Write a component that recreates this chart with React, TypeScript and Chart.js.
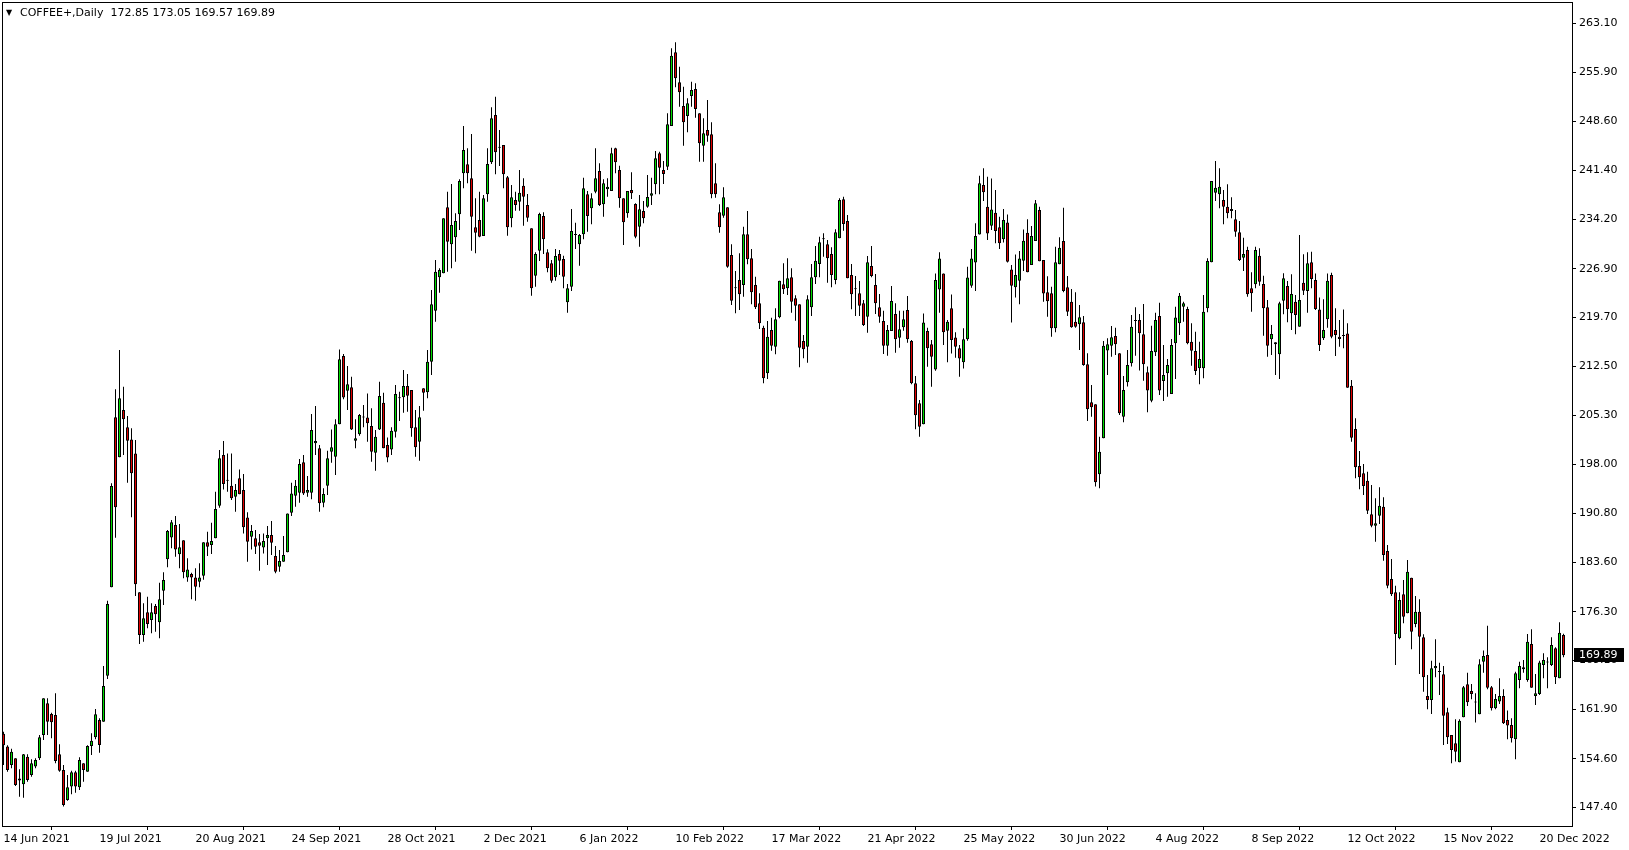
import React, { useEffect, useRef } from "react";
import { Chart, registerables } from "chart.js";

Chart.register(...registerables);

const symbolTitle = "COFFEE+,Daily";
const lastQuote = ["172.85", "173.05", "169.57", "169.89"];
const lastPrice = 169.89;

const xTickBars = [0, 24, 48, 72, 96, 120, 144, 168, 192, 216, 240, 264, 288, 312, 336, 360, 384];
const xTickLabels = [
  "14 Jun 2021", "19 Jul 2021", "20 Aug 2021", "24 Sep 2021", "28 Oct 2021", "2 Dec 2021",
  "6 Jan 2022", "10 Feb 2022", "17 Mar 2022", "21 Apr 2022", "25 May 2022", "30 Jun 2022",
  "4 Aug 2022", "8 Sep 2022", "12 Oct 2022", "15 Nov 2022", "20 Dec 2022",
];
const yTickLabels = [
  "263.10", "255.90", "248.60", "241.40", "234.20", "226.90", "219.70", "212.50", "205.30",
  "198.00", "190.80", "183.60", "176.30", "169.10", "161.90", "154.60", "147.40",
];

const opens = [
  158.3, 156.4, 153.7, 154.67, 151.4, 150.84, 154.92, 152.22, 153.45, 154.68,
  158.12, 162.79, 161.21, 161.06, 155.26, 152.95, 148.53, 150.5, 152.61, 150.4,
  153.94, 152.7, 156.49, 157.77, 160.33, 160.08, 166.87, 179.9, 204.97, 199.07,
  206.05, 203.49, 201.7, 199.65, 179.15, 172.86, 176.2, 175.07, 177.14, 174.73,
  179.4, 184.02, 187.26, 189.08, 184.76, 186.82, 181.36, 181.86, 181.36, 180.73,
  181.61, 186.53, 186.14, 187.12, 191.94, 199.41, 195.6, 194.88, 193.26, 195.97,
  194.25, 190.21, 187.36, 187.12, 186.53, 185.77, 187.12, 187.61, 184.51, 182.94,
  183.68, 185.05, 190.9, 193.41, 193.85, 198.33, 193.85, 193.85, 201.13, 200.39,
  192.38, 194.89, 199.9, 199.16, 203.93, 214.01, 208.9, 209.39, 201.52, 202.46,
  205.0, 204.96, 203.69, 199.75, 203.19, 207.13, 200.88, 200.24, 202.85, 207.77,
  207.92, 209.59, 209.0, 203.5, 201.38, 209.25, 208.66, 213.18, 220.7, 225.62,
  226.21, 235.94, 230.49, 231.52, 234.91, 240.96, 242.29, 240.22, 232.99, 234.08,
  231.72, 237.86, 242.58, 249.56, 244.74, 245.14, 240.37, 234.32, 237.03, 236.78,
  239.14, 236.29, 232.84, 225.86, 229.55, 234.66, 229.3, 227.68, 225.62, 229.06,
  228.32, 221.93, 224.24, 232.01, 230.48, 231.96, 237.86, 235.79, 238.25, 241.3,
  236.38, 238.6, 238.35, 244.64, 241.45, 237.27, 235.06, 238.5, 236.43, 233.09,
  235.4, 236.04, 237.66, 239.33, 243.91, 241.45, 241.94, 247.94, 258.8, 254.38,
  250.89, 249.41, 252.36, 253.4, 249.81, 245.04, 247.35, 246.71, 239.48, 235.2,
  234.71, 235.94, 228.91, 223.99, 225.22, 224.49, 231.99, 228.42, 224.49, 221.78,
  218.19, 211.46, 217.85, 215.39, 219.72, 224.59, 224.0, 225.62, 222.52, 221.64,
  216.23, 215.39, 221.19, 225.62, 227.59, 231.22, 230.49, 229.06, 225.23, 231.37,
  237.12, 233.93, 225.96, 223.9, 223.26, 221.78, 219.82, 227.29, 224.49, 221.19,
  219.18, 215.54, 217.7, 220.21, 216.72, 218.24, 220.8, 216.23, 209.98, 207.03,
  203.93, 217.7, 215.73, 212.04, 223.84, 226.2, 217.75, 221.04, 216.76, 215.14,
  213.08, 216.47, 224.38, 227.82, 231.95, 239.23, 236.03, 233.23, 235.15, 232.99,
  231.22, 233.72, 226.79, 224.14, 225.12, 228.07, 232.2, 227.43, 230.97, 235.54,
  228.17, 223.4, 223.26, 218.1, 227.54, 230.98, 224.15, 222.03, 219.08, 218.69,
  218.98, 212.79, 207.19, 206.89, 196.57, 201.88, 214.81, 215.54, 216.97, 214.41,
  205.07, 210.13, 212.94, 219.18, 219.33, 217.21, 211.61, 207.43, 214.56, 219.92,
  210.33, 211.46, 208.41, 215.88, 218.83, 221.29, 220.95, 216.13, 214.75, 212.19,
  212.19, 221.04, 227.83, 238.1, 237.86, 237.02, 236.04, 235.7, 234.17, 232.25,
  228.52, 229.65, 223.99, 224.58, 228.81, 224.63, 221.19, 216.47, 216.03, 214.26,
  222.18, 224.34, 220.31, 222.03, 218.34, 224.83, 223.6, 227.83, 225.22, 220.89,
  216.62, 219.42, 225.96, 217.85, 216.86, 216.95, 217.35, 209.64, 203.24, 197.79,
  196.71, 195.62, 190.66, 188.99, 190.46, 191.79, 185.25, 181.12, 179.15, 172.37,
  178.86, 176.06, 181.32, 174.48, 176.3, 172.52, 163.86, 163.27, 167.94, 167.45,
  167.07, 161.46, 158.12, 156.89, 154.09, 160.72, 165.59, 164.61, 162.9, 161.17,
  168.93, 169.92, 165.15, 162.05, 163.04, 163.87, 160.33, 159.6, 157.48, 166.23,
  167.8, 166.23, 171.54, 163.87, 164.17, 168.44, 168.79, 168.44, 170.9, 166.48,
  172.85,
];

const highs = [
  158.6, 156.6, 156.1, 154.7, 153.05, 155.3, 155.26, 154.53, 154.68, 158.12,
  163.52, 163.52, 161.41, 164.26, 156.74, 153.69, 152.22, 152.85, 152.85, 154.82,
  153.94, 156.6, 158.36, 161.95, 160.57, 168.29, 177.93, 195.23, 209.1, 214.9,
  209.49, 205.17, 203.35, 201.62, 179.15, 177.53, 178.51, 177.53, 177.43, 180.58,
  182.1, 188.35, 189.82, 190.41, 189.23, 186.82, 184.17, 182.05, 182.69, 183.43,
  186.53, 188.1, 189.43, 194.0, 200.15, 201.47, 199.65, 199.65, 195.13, 197.29,
  196.61, 190.95, 189.08, 188.35, 187.76, 187.85, 188.94, 189.67, 185.99, 185.4,
  187.46, 190.8, 195.33, 195.72, 198.82, 199.41, 196.31, 205.46, 206.64, 200.88,
  194.49, 200.05, 203.19, 204.67, 214.99, 214.31, 212.54, 210.96, 204.67, 205.46,
  206.78, 208.5, 206.29, 203.09, 210.22, 208.6, 202.01, 203.49, 209.73, 208.76,
  211.95, 211.36, 209.0, 206.05, 206.64, 209.25, 214.9, 223.75, 228.18, 226.95,
  234.32, 238.25, 239.39, 235.06, 240.07, 247.94, 244.65, 246.76, 237.27, 238.25,
  237.76, 244.65, 250.69, 252.27, 247.35, 245.14, 240.57, 239.24, 238.25, 241.45,
  240.22, 237.91, 232.84, 229.3, 235.15, 235.2, 229.75, 228.17, 229.8, 229.65,
  228.81, 224.63, 235.7, 233.68, 232.01, 240.32, 238.35, 238.01, 244.64, 242.43,
  240.07, 240.22, 244.74, 244.74, 242.09, 237.27, 238.35, 241.1, 236.53, 237.76,
  236.88, 240.71, 240.32, 244.25, 244.15, 242.78, 249.81, 259.39, 260.28, 256.69,
  253.74, 252.02, 254.48, 254.23, 249.81, 249.07, 251.77, 248.48, 242.43, 236.38,
  238.89, 235.94, 230.48, 226.55, 229.16, 233.09, 235.4, 229.8, 225.72, 223.26,
  218.49, 219.18, 219.67, 221.05, 225.13, 227.68, 228.42, 226.95, 222.99, 221.64,
  217.11, 222.99, 227.59, 230.24, 231.62, 232.11, 231.13, 230.04, 232.7, 237.27,
  237.52, 234.81, 227.59, 225.82, 225.08, 222.28, 228.77, 230.24, 226.11, 223.16,
  220.7, 218.59, 224.34, 221.78, 220.7, 220.7, 222.87, 216.38, 211.07, 207.52,
  220.3, 218.19, 216.37, 226.2, 229.3, 226.2, 219.32, 223.1, 217.5, 215.63,
  218.09, 227.18, 229.79, 233.58, 240.61, 241.69, 240.46, 240.21, 238.49, 234.56,
  235.69, 234.9, 227.43, 229.0, 229.5, 232.69, 234.17, 233.18, 237.02, 236.03,
  228.17, 225.76, 224.24, 230.14, 231.52, 235.9, 225.82, 223.9, 223.41, 221.54,
  219.92, 214.41, 209.74, 206.89, 202.12, 216.23, 216.62, 218.44, 218.2, 214.41,
  211.07, 214.9, 220.07, 221.2, 220.21, 221.69, 212.45, 218.49, 220.41, 221.88,
  215.64, 213.58, 216.53, 221.29, 223.3, 222.03, 221.29, 218.83, 217.6, 216.13,
  223.01, 228.42, 239.83, 242.78, 241.69, 238.5, 239.33, 237.42, 235.55, 233.93,
  231.47, 230.14, 226.35, 230.14, 229.89, 225.86, 222.27, 218.59, 216.03, 222.03,
  226.21, 225.08, 226.06, 223.01, 231.86, 229.01, 229.3, 229.4, 226.2, 222.66,
  222.37, 226.2, 226.3, 221.04, 219.32, 220.89, 218.83, 210.47, 204.82, 200.0,
  198.08, 196.95, 194.98, 193.02, 194.64, 193.17, 186.14, 184.07, 180.14, 179.15,
  180.97, 183.92, 181.32, 178.61, 178.12, 172.96, 166.96, 169.07, 172.22, 168.78,
  168.3, 162.15, 158.12, 160.43, 160.43, 165.35, 167.31, 165.64, 164.26, 169.28,
  170.56, 174.24, 165.35, 164.17, 166.48, 164.85, 161.71, 160.58, 167.46, 168.93,
  169.18, 173.02, 173.7, 167.12, 169.08, 170.16, 169.57, 172.52, 171.05, 174.74,
  173.05,
];

const lows = [
  153.7, 152.7, 153.2, 150.6, 149.02, 148.87, 151.23, 151.97, 153.2, 154.43,
  157.38, 158.12, 157.62, 153.94, 152.7, 147.55, 148.43, 149.36, 149.6, 150.0,
  151.23, 152.7, 155.17, 157.48, 155.51, 160.08, 166.38, 179.9, 187.22, 199.07,
  199.41, 195.33, 190.22, 178.61, 171.53, 171.88, 173.84, 173.11, 173.35, 172.37,
  177.28, 182.84, 185.64, 184.41, 182.69, 181.22, 180.73, 178.12, 177.92, 179.89,
  181.0, 184.51, 184.81, 187.12, 191.64, 194.34, 194.0, 192.77, 191.05, 193.61,
  187.85, 183.68, 185.49, 184.81, 182.35, 184.9, 183.18, 184.66, 181.96, 182.2,
  183.68, 185.05, 190.41, 191.79, 192.38, 193.51, 193.26, 192.87, 199.41, 191.05,
  191.69, 193.51, 198.28, 196.46, 203.93, 207.62, 206.05, 203.09, 200.39, 202.26,
  203.49, 201.37, 198.43, 197.1, 203.09, 200.39, 198.33, 199.41, 202.01, 204.43,
  205.66, 205.81, 202.12, 199.17, 198.58, 205.95, 207.77, 211.21, 219.08, 223.36,
  226.21, 226.46, 226.95, 227.93, 232.6, 238.75, 239.48, 229.55, 229.16, 231.52,
  231.72, 236.78, 242.34, 240.81, 242.04, 238.75, 231.77, 232.99, 235.45, 235.45,
  233.24, 233.83, 222.91, 224.24, 228.03, 229.06, 226.35, 224.83, 225.13, 225.96,
  223.99, 220.41, 223.6, 229.8, 227.34, 231.22, 232.35, 233.43, 238.01, 236.14,
  234.56, 237.51, 238.35, 240.96, 235.89, 230.39, 234.42, 237.17, 231.37, 230.14,
  233.58, 235.89, 236.29, 237.86, 237.86, 239.38, 241.45, 247.94, 253.64, 250.79,
  245.04, 247.0, 250.79, 249.17, 242.68, 242.68, 245.63, 237.27, 237.36, 232.21,
  234.42, 227.04, 221.54, 220.31, 220.8, 222.77, 227.54, 221.64, 220.95, 218.0,
  209.98, 210.62, 214.8, 214.26, 219.57, 223.16, 223.01, 220.41, 219.23, 212.34,
  213.67, 213.03, 219.92, 224.64, 225.62, 228.67, 224.83, 224.14, 224.59, 231.37,
  232.5, 225.47, 220.9, 219.92, 219.92, 218.44, 217.46, 225.62, 220.21, 218.93,
  214.31, 214.07, 217.7, 214.51, 215.25, 217.75, 215.98, 209.84, 203.2, 202.11,
  203.93, 212.44, 209.49, 211.85, 220.4, 215.63, 213.08, 214.4, 213.76, 210.96,
  212.18, 216.27, 224.09, 223.6, 231.95, 236.87, 231.12, 232.59, 230.63, 229.79,
  230.77, 227.82, 218.97, 222.66, 221.63, 226.55, 226.35, 227.43, 230.97, 227.98,
  222.02, 219.81, 216.87, 217.51, 227.54, 223.41, 219.92, 218.2, 218.2, 214.9,
  212.59, 204.43, 205.07, 194.75, 194.5, 201.88, 211.22, 213.92, 214.17, 205.32,
  204.23, 209.5, 212.45, 214.07, 211.86, 210.38, 205.71, 207.19, 214.0, 208.27,
  207.38, 208.02, 208.41, 210.63, 217.11, 219.08, 215.73, 212.59, 211.21, 209.84,
  210.72, 220.45, 227.83, 236.88, 235.79, 233.43, 234.32, 234.32, 231.61, 228.03,
  226.55, 222.76, 220.55, 223.99, 224.39, 217.01, 213.92, 214.16, 211.21, 210.62,
  220.16, 218.98, 217.85, 217.21, 218.34, 223.01, 220.4, 223.99, 220.8, 214.75,
  216.37, 218.19, 216.62, 214.01, 215.39, 215.14, 209.34, 201.38, 195.97, 194.35,
  193.51, 190.71, 188.74, 186.63, 189.23, 183.82, 179.74, 178.61, 168.44, 172.22,
  174.58, 176.06, 170.75, 173.99, 167.11, 164.5, 161.9, 161.21, 166.62, 164.01,
  156.64, 156.79, 153.94, 154.19, 154.09, 160.72, 162.4, 163.38, 159.94, 161.17,
  167.31, 164.85, 161.71, 161.9, 162.69, 159.74, 157.48, 156.99, 154.53, 165.0,
  167.31, 165.98, 165.1, 162.54, 164.02, 166.48, 165.0, 168.3, 165.64, 166.48,
  169.57,
];

const closes = [
  156.6, 152.95, 155.66, 150.74, 151.7, 155.26, 151.48, 153.94, 154.43, 157.77,
  163.52, 160.08, 159.98, 154.28, 152.85, 147.79, 150.4, 152.61, 150.5, 154.43,
  152.95, 156.49, 157.28, 161.16, 156.64, 165.34, 177.44, 194.84, 191.69, 207.77,
  204.67, 201.53, 196.71, 180.33, 172.86, 175.32, 174.48, 176.2, 175.91, 178.12,
  180.97, 188.2, 189.48, 185.49, 185.79, 182.1, 182.54, 181.36, 179.99, 181.36,
  186.53, 185.89, 186.72, 191.44, 198.92, 195.13, 195.65, 193.02, 194.25, 193.61,
  188.74, 186.63, 188.2, 185.89, 186.04, 186.72, 187.61, 186.48, 182.2, 183.77,
  184.66, 190.8, 193.75, 194.89, 198.08, 193.75, 194.25, 203.1, 201.47, 192.28,
  193.66, 198.92, 200.54, 203.93, 213.52, 207.91, 209.83, 203.19, 201.87, 205.31,
  204.96, 204.08, 199.9, 202.11, 208.11, 200.39, 199.06, 203.0, 208.41, 207.8,
  209.59, 208.17, 203.35, 200.55, 204.97, 208.61, 213.18, 221.64, 226.46, 226.7,
  234.32, 230.88, 233.34, 233.93, 239.83, 244.4, 240.96, 234.57, 232.21, 231.62,
  237.27, 242.34, 249.07, 244.06, 244.8, 240.81, 232.99, 237.42, 236.29, 238.11,
  237.52, 234.42, 223.99, 229.06, 234.96, 231.22, 226.94, 225.13, 228.76, 228.08,
  225.71, 223.99, 232.45, 231.86, 231.86, 238.74, 234.66, 237.27, 240.22, 236.29,
  239.48, 238.99, 243.91, 242.58, 237.27, 233.73, 238.35, 238.01, 231.61, 235.65,
  234.32, 237.47, 238.01, 243.17, 241.79, 240.86, 248.18, 258.31, 254.97, 252.9,
  248.48, 251.28, 253.25, 250.45, 245.38, 246.86, 246.51, 237.86, 237.86, 232.99,
  237.42, 227.19, 222.18, 224.0, 223.11, 231.96, 228.27, 223.41, 221.19, 218.83,
  210.72, 216.87, 215.54, 219.42, 225.13, 223.85, 225.47, 222.03, 221.44, 215.25,
  215.0, 222.37, 225.62, 228.08, 230.78, 231.25, 228.42, 225.96, 232.26, 237.03,
  233.49, 225.47, 223.11, 223.85, 221.44, 218.59, 227.83, 225.82, 221.78, 219.82,
  215.54, 217.85, 222.13, 216.47, 217.95, 219.42, 216.47, 209.98, 205.27, 203.59,
  218.97, 215.14, 213.91, 225.22, 228.41, 217.5, 219.07, 216.37, 215.39, 213.66,
  216.47, 225.61, 228.41, 231.71, 239.48, 238.15, 232.1, 235.64, 232.45, 230.63,
  234.07, 227.92, 224.38, 225.96, 228.41, 231.02, 226.35, 231.71, 236.53, 227.98,
  223.25, 222.08, 218.1, 227.83, 230.0, 223.61, 220.56, 218.25, 218.34, 219.72,
  212.69, 206.15, 206.45, 195.39, 199.91, 215.54, 215.74, 216.77, 215.74, 205.56,
  209.0, 212.69, 218.34, 219.22, 217.36, 212.79, 208.91, 214.76, 219.33, 208.91,
  211.22, 212.69, 215.64, 219.7, 222.9, 221.78, 215.88, 214.8, 211.8, 213.57,
  220.55, 228.03, 239.83, 238.84, 238.99, 236.04, 235.06, 235.4, 232.35, 228.17,
  229.06, 223.11, 223.26, 229.65, 224.98, 221.04, 215.54, 217.26, 215.73, 221.78,
  225.47, 220.9, 223.16, 220.06, 222.27, 223.65, 227.68, 225.37, 220.94, 215.63,
  217.85, 225.12, 216.86, 217.11, 216.52, 217.05, 209.34, 201.97, 197.59, 196.12,
  194.84, 191.2, 188.99, 189.33, 191.94, 184.66, 180.14, 178.86, 173.01, 178.02,
  175.56, 182.2, 173.35, 176.3, 172.61, 166.62, 163.27, 167.94, 168.29, 167.4,
  160.97, 157.77, 155.91, 155.66, 160.23, 165.15, 162.94, 164.17, 162.89, 168.54,
  169.77, 165.1, 162.05, 163.43, 163.87, 159.84, 159.5, 157.63, 167.21, 168.3,
  168.1, 171.88, 165.1, 164.26, 168.79, 169.18, 168.93, 171.39, 166.62, 173.21,
  169.89,
];

const FONT = "DejaVu Sans";
const UP_COLOR = "#00DC00";
const DOWN_COLOR = "#E00000";

const overlayPlugin = {
  id: "mtOverlay",
  afterDraw(chart: any) {
    const { ctx, chartArea: a, scales } = chart;
    ctx.save();
    ctx.strokeStyle = "#000";
    ctx.lineWidth = 1;
    ctx.strokeRect(a.left + 0.5, a.top + 0.5, a.right - a.left, a.bottom - a.top);
    ctx.fillStyle = "#000";
    ctx.textBaseline = "middle";
    ctx.textAlign = "left";
    ctx.font = `8px "${FONT}"`;
    ctx.fillText("\u25BC", 6, 13);
    ctx.font = `11px "${FONT}"`;
    ctx.fillText(`${symbolTitle}  ${lastQuote.join(" ")}`, 20, 13);
    const y = scales.y.getPixelForValue(lastPrice);
    ctx.fillStyle = "#000";
    ctx.fillRect(a.right + 2, Math.round(y) - 7, 50, 14);
    ctx.fillStyle = "#fff";
    ctx.fillText(lastPrice.toFixed(2), a.right + 7, Math.round(y) + 0.5);
    ctx.restore();
  },
};

export default function App() {
  const ref = useRef<HTMLCanvasElement>(null);

  useEffect(() => {
    const idx = opens.map((_, i) => i);
    const chart = new Chart(ref.current as HTMLCanvasElement, {
      type: "bar",
      data: {
        datasets: [
          {
            label: "body",
            data: idx.map((i) => ({ x: i, y: [opens[i], closes[i]] })) as any,
            backgroundColor: idx.map((i) => (closes[i] >= opens[i] ? UP_COLOR : DOWN_COLOR)),
            borderColor: "#000",
            borderWidth: 1,
            borderSkipped: false,
            barThickness: 3,
            minBarLength: 1,
            inflateAmount: 0,
            grouped: false,
            order: 1,
          } as any,
          {
            label: "wick",
            data: idx.map((i) => ({ x: i, y: [lows[i], highs[i]] })) as any,
            backgroundColor: "#000",
            borderWidth: 0,
            barThickness: 1,
            inflateAmount: 0,
            grouped: false,
            order: 2,
          } as any,
        ],
      },
      options: {
        animation: false,
        responsive: false,
        maintainAspectRatio: false,
        events: [],
        layout: { padding: { left: 2, top: 2, right: 0, bottom: 0 } },
        plugins: {
          legend: { display: false },
          tooltip: { enabled: false },
          title: { display: false },
        },
        scales: {
          x: {
            type: "linear",
            min: -0.375,
            max: 392.125,
            offset: false,
            bounds: "data",
            grid: { drawOnChartArea: false, drawTicks: true, tickLength: 4, color: "#000" },
            border: { display: false },
            ticks: {
              autoSkip: false,
              maxRotation: 0,
              minRotation: 0,
              align: "start",
              padding: 3,
              color: "#000",
              font: { family: FONT, size: 11 },
              callback: (_v: any, i: number) => xTickLabels[i],
            },
            afterBuildTicks: (s: any) => {
              s.ticks = xTickBars.map((v) => ({ value: v }));
            },
            afterFit: (s: any) => {
              s.height = 24;
              s.paddingLeft = 0;
              s.paddingRight = 0;
            },
          } as any,
          y: {
            type: "linear",
            position: "right",
            min: 144.69,
            max: 266.23,
            bounds: "data",
            grid: { drawOnChartArea: false, drawTicks: true, tickLength: 4, color: "#000" },
            border: { display: false },
            ticks: {
              autoSkip: false,
              padding: 3,
              color: "#000",
              font: { family: FONT, size: 11 },
              callback: (_v: any, i: number) => yTickLabels[i],
            },
            afterBuildTicks: (s: any) => {
              s.ticks = yTickLabels.map((t) => ({ value: parseFloat(t) }));
            },
            afterFit: (s: any) => {
              s.width = 57;
              s.paddingTop = 0;
              s.paddingBottom = 0;
            },
          } as any,
        },
      },
      plugins: [overlayPlugin],
    });
    return () => chart.destroy();
  }, []);

  return (
    <div style={{ position: "fixed", left: 0, top: 0, width: 1629, height: 850, background: "#fff" }}>
      <canvas ref={ref} width={1629} height={850} style={{ display: "block" }} />
    </div>
  );
}
